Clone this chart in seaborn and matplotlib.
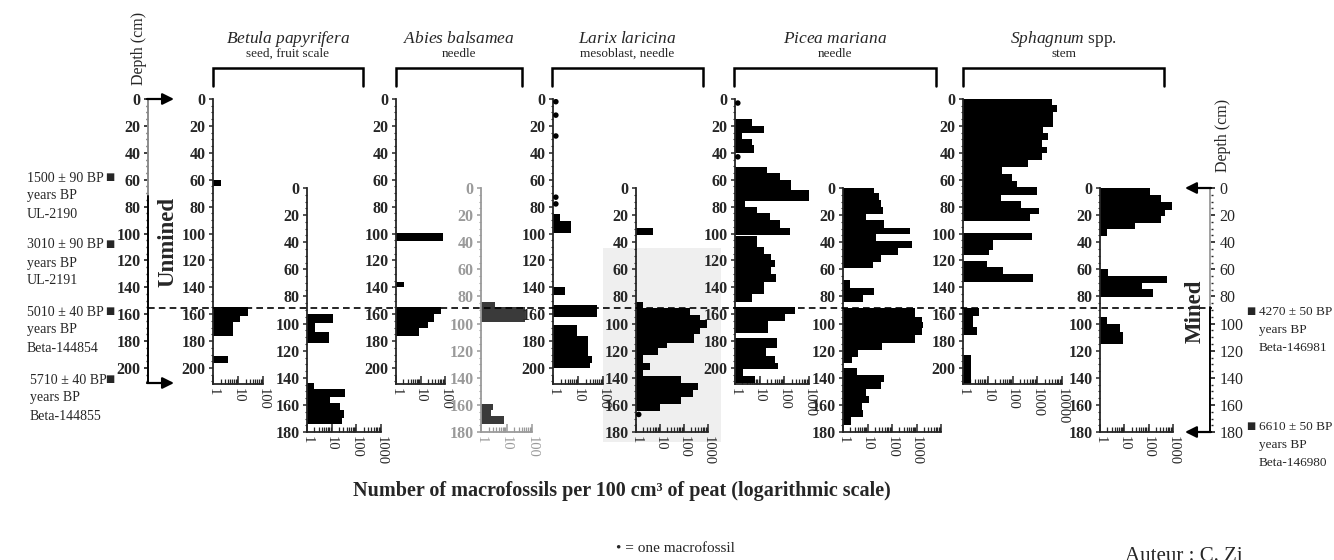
import numpy as np
import matplotlib
matplotlib.use("Agg")
import matplotlib.pyplot as plt
import seaborn as sns
from matplotlib.ticker import FixedLocator, MultipleLocator, FuncFormatter, LogLocator, NullFormatter

# ---------------------------------------------------------------- data
taxa = ["Betula papyrifera", "Abies balsamea", "Larix laricina", "Picea mariana", "Sphagnum"]
taxa_suffix = ["", "", "", "", " spp."]
organs = ["seed, fruit scale", "needle", "mesoblast, needle", "needle", "stem"]

unmined_depth_ticks = [0, 20, 40, 60, 80, 100, 120, 140, 160, 180, 200]
mined_depth_ticks = [0, 20, 40, 60, 80, 100, 120, 140, 160, 180]
count_ticks = [1, 10, 100, 1000, 10000]

# each panel: top of slice (cm), bottom of slice (cm), macrofossils per 100 cm3
betula_u_top = [60, 155, 161, 166, 191]
betula_u_bot = [65, 161, 166, 176, 196]
betula_u_val = [2, 26, 12, 6.5, 4]

betula_m_top = [93, 99.6, 106.5, 144, 148, 154, 158.5, 163.7, 169.6]
betula_m_bot = [99.6, 106.5, 114, 148, 154, 158.5, 163.7, 169.6, 174]
betula_m_val = [11, 2.1, 8, 2, 34, 8.5, 21, 32, 26]

abies_u_top = [99.6, 136, 155, 160, 166, 170]
abies_u_bot = [105.6, 140, 160, 166, 170, 176]
abies_u_val = [85, 2.1, 69, 35, 20, 8.7]

abies_m_top = [84, 88, 159, 164, 168]
abies_m_bot = [88, 99, 164, 168, 174]
abies_m_val = [3.4, 52, 3, 2.5, 8]

larix_u_top = [85.5, 91, 140, 153, 168, 176, 191, 196]
larix_u_bot = [91, 99.6, 146, 162, 176, 191, 196, 200]
larix_u_val = [1.9, 5.4, 3, 60, 9, 24, 36, 30]
larix_u_single = [2, 12, 27.5, 73, 78]

larix_m_top = [29.5, 84, 88.5, 93.7, 97, 103, 108, 114, 118, 123, 129, 134, 139, 144, 149, 154, 159]
larix_m_bot = [34.7, 88.5, 93.7, 97, 103, 108, 114, 118, 123, 129, 134, 139, 144, 149, 154, 159, 164.5]
larix_m_val = [5, 2, 180, 450, 900, 450, 250, 20, 8, 2, 3.8, 2, 75, 380, 240, 75, 10]
larix_m_single = [167]

picea_u_top = [15, 20, 25.3, 29.7, 34.2, 50.6, 55, 60.5, 68, 75.5, 80.3, 85, 90, 96,
               102, 110, 115, 120, 125, 130, 136, 145, 155, 160, 165, 178, 185, 191, 196, 201, 206]
picea_u_bot = [20, 25.3, 29.7, 34.2, 40, 55, 60.5, 68, 75.5, 80.3, 85, 90, 96, 101,
               110, 115, 120, 125, 130, 136, 145, 151, 160, 165, 174, 185, 191, 196, 201, 206, 211]
picea_u_val = [4.9, 15, 1.9, 4.9, 5.9, 20, 66, 190, 1100, 2.5, 7.7, 26, 66, 170,
               8, 15, 30, 40, 30, 45, 15, 5, 260, 110, 22, 50, 18, 40, 55, 2.1, 6.5]
picea_u_single = [3, 43]

picea_m_top = [0, 4, 8.8, 13.7, 19.2, 23.6, 29.3, 34, 39, 44.4, 49.4, 54.3, 67.8, 73.5, 79,
               88.5, 95, 99, 103.5, 108.4, 114.5, 119.5, 124.4, 133, 138, 142.8, 148.5, 153.4, 158.3, 163.7, 169]
picea_m_bot = [4, 8.8, 13.7, 19.2, 23.6, 29.3, 34, 39, 44.4, 49.4, 54.3, 59, 73.5, 79, 84,
               95, 99, 103.5, 108.4, 114.5, 119.5, 124.4, 129.3, 138, 142.8, 148.5, 153.4, 158.3, 163.7, 169, 174.8]
picea_m_val = [19, 30, 36, 44, 8.3, 48, 525, 23, 630, 174, 36, 17, 2, 19, 6.3,
               900, 1700, 1900, 1600, 900, 40, 4, 2.3, 3.6, 48, 36, 8.3, 11, 5.8, 6.3, 2.1]

sphagnum_u_top = [0, 4.5, 10, 20.6, 25.5, 30.5, 35.4, 40.4, 45.4, 50.8, 55.8, 60.7, 65.6, 71.4,
                  75.8, 81.3, 85.5, 99.9, 105, 111.9, 120.2, 125.1, 130.3, 155.6, 161.3, 169.7, 190.3]
sphagnum_u_bot = [4.5, 10, 20.6, 25.5, 30.5, 35.4, 40.4, 45.4, 50.8, 55.8, 60.7, 65.6, 71.4, 75.8,
                  81.3, 85.5, 90.7, 105, 111.9, 116, 125.1, 130.3, 135.8, 161.3, 169.7, 175.5, 212]
sphagnum_u_val = [3800, 6300, 4200, 1700, 2800, 1500, 2500, 1500, 420, 37, 93, 150, 950, 33,
                  215, 1170, 510, 630, 16, 11.5, 9.6, 42, 650, 4.4, 2.5, 3.6, 2.2]

sphagnum_m_top = [0, 4.9, 10.5, 16, 20.8, 25.7, 30.6, 59.6, 65, 70, 74.8, 95, 100, 106]
sphagnum_m_bot = [4.9, 10.5, 16, 20.8, 25.7, 30.6, 35.5, 65, 70, 74.8, 80.4, 100, 106, 115]
sphagnum_m_val = [114, 325, 890, 470, 325, 27, 2, 2.2, 550, 52, 155, 2, 6.5, 9]

single_fossil_value = 1.3

left_dates = ["1500 ± 90 BP", "3010 ± 90 BP", "5010 ± 40 BP", "5710 ± 40 BP"]
left_labs = ["UL-2190", "UL-2191", "Beta-144854", "Beta-144855"]
right_dates = ["4270 ± 50 BP", "6610 ± 50 BP"]
right_labs = ["Beta-146981", "Beta-146980"]

# ---------------------------------------------------------------- style
sns.set_theme(style="ticks")
plt.rcParams["font.family"] = ["Liberation Serif", "DejaVu Sans"]
plt.rcParams["mathtext.fontset"] = "custom"
plt.rcParams["mathtext.it"] = "Liberation Serif:italic"
plt.rcParams["mathtext.rm"] = "Liberation Serif"
plt.rcParams["axes.linewidth"] = 1.3

W, H = 1334, 560
fig = plt.figure(figsize=(W / 100, H / 100), dpi=100)
fig.patch.set_facecolor("white")

# background overlay (scan shading)
bg = fig.add_axes([0, 0, 1, 1], zorder=-5)
bg.set_xlim(0, W); bg.set_ylim(H, 0); bg.axis("off")
bg.add_patch(plt.Rectangle((603, 248), 118, 194, color="#efefef", lw=0))

UNM_TOP, UNM_MAX, UNM_SC = 99, 212, 1.345
MIN_TOP, MIN_MAX, MIN_SC = 188, 180, 1.356


def panel(x0, x1, mined, xmax, label_max, tops, bots, vals, singles=None,
          color="black", faded=False):
    ytop, ymax, sc = (MIN_TOP, MIN_MAX, MIN_SC) if mined else (UNM_TOP, UNM_MAX, UNM_SC)
    ybot = ytop + ymax * sc
    ax = fig.add_axes([x0 / W, 1 - ybot / H, (x1 - x0) / W, (ybot - ytop) / H])
    ax.set_facecolor("none")
    t = np.asarray(tops, float); b = np.asarray(bots, float); v = np.asarray(vals, float)
    ax.barh((t + b) / 2, v - 1, left=1, height=b - t, color=color, edgecolor="none", linewidth=0)
    if singles:
        sns.scatterplot(x=[single_fossil_value] * len(singles), y=singles, ax=ax,
                        color="black", s=16, edgecolor="none", legend=False, zorder=5)
    ax.set_xscale("log")
    ax.set_xlim(1, xmax)
    ax.set_ylim(ymax, 0)
    ax.set_xlabel(""); ax.set_ylabel("")
    sns.despine(ax=ax)
    majors = [c for c in count_ticks if c <= xmax]
    ax.xaxis.set_major_locator(FixedLocator(majors))
    ax.xaxis.set_minor_locator(LogLocator(base=10, subs=np.arange(2, 10), numticks=20))
    ax.xaxis.set_minor_formatter(NullFormatter())
    ax.xaxis.set_major_formatter(FuncFormatter(lambda val, pos: f"{int(round(val))}" if val <= label_max else ""))
    ax.tick_params(axis="x", which="major", direction="in", length=6, width=1.1,
                   labelrotation=-90, labelsize=10.5, pad=3)
    ax.tick_params(axis="x", which="minor", direction="in", length=3.5, width=0.9)
    yt = mined_depth_ticks if mined else unmined_depth_ticks
    ax.set_yticks(yt)
    ax.set_yticklabels([str(d) for d in yt], fontweight="bold")
    ax.yaxis.set_minor_locator(MultipleLocator(5))
    ax.tick_params(axis="y", which="major", direction="out", length=3, width=1.1, labelsize=11.5, pad=2.5)
    ax.tick_params(axis="y", which="minor", direction="out", length=1.5, width=0.8)
    ax.grid(False)
    if faded:
        for s in ax.spines.values():
            s.set_color("#9a9a9a")
        ax.tick_params(colors="#9a9a9a", which="both")
    return ax


panel(213, 263, False, 100, 100, betula_u_top, betula_u_bot, betula_u_val)
panel(307, 381, True, 1000, 1000, betula_m_top, betula_m_bot, betula_m_val)
panel(396, 445, False, 100, 100, abies_u_top, abies_u_bot, abies_u_val)
panel(481, 532, True, 100, 100, abies_m_top, abies_m_bot, abies_m_val, color="#3a3a3a", faded=True)
panel(553, 603, False, 100, 100, larix_u_top, larix_u_bot, larix_u_val, singles=larix_u_single)
panel(636, 708, True, 1000, 1000, larix_m_top, larix_m_bot, larix_m_val, singles=larix_m_single)
panel(735, 809, False, 1000, 1000, picea_u_top, picea_u_bot, picea_u_val, singles=picea_u_single)
panel(843, 941, True, 10000, 1000, picea_m_top, picea_m_bot, picea_m_val)
panel(963, 1062, False, 10000, 10000, sphagnum_u_top, sphagnum_u_bot, sphagnum_u_val)
panel(1100, 1173, True, 1000, 1000, sphagnum_m_top, sphagnum_m_bot, sphagnum_m_val)

# left depth axis
ybotL = UNM_TOP + UNM_MAX * UNM_SC
axL = fig.add_axes([148 / W, 1 - ybotL / H, 1 / W, (ybotL - UNM_TOP) / H])
axL.set_xlim(0, 1); axL.set_ylim(UNM_MAX, 0)
for s in axL.spines.values():
    s.set_visible(False)
axL.plot([0, 0], [0, 72], color="#8c8c8c", lw=1.4, clip_on=False)
axL.plot([0, 0], [72, 211], color="black", lw=1.4, clip_on=False)
axL.set_xticks([])
axL.set_yticks(unmined_depth_ticks)
axL.set_yticklabels([str(d) for d in unmined_depth_ticks], fontweight="bold")
axL.yaxis.set_minor_locator(MultipleLocator(5))
axL.tick_params(axis="y", which="major", direction="out", length=3, labelsize=11.5, pad=2.5)
axL.tick_params(axis="y", which="minor", direction="out", length=1.5)
axL.set_facecolor("none")

# right depth axis
ybotR = MIN_TOP + MIN_MAX * MIN_SC
axR = fig.add_axes([1210 / W, 1 - ybotR / H, 1 / W, (ybotR - MIN_TOP) / H])
axR.set_xlim(0, 1); axR.set_ylim(MIN_MAX, 0)
for s in axR.spines.values():
    s.set_visible(False)
axR.plot([0, 0], [0, 86], color="#a0a0a0", lw=1.4, clip_on=False)
axR.plot([0, 0], [88, 180], color="black", lw=1.4, clip_on=False)
axR.set_xticks([])
axR.yaxis.tick_right()
axR.set_yticks(mined_depth_ticks)
axR.set_yticklabels([str(d) for d in mined_depth_ticks])
axR.yaxis.set_minor_locator(MultipleLocator(5))
axR.tick_params(axis="y", which="major", direction="out", length=3, labelsize=11.5, pad=3,
                left=False, right=True, labelleft=False, labelright=True)
axR.tick_params(axis="y", which="minor", direction="out", length=1.5, left=False, right=True)
axR.set_facecolor("none")

# ---------------------------------------------------------------- overlay annotations (pixel space)
ov = fig.add_axes([0, 0, 1, 1], zorder=10)
ov.set_xlim(0, W); ov.set_ylim(H, 0); ov.axis("off")

ov.plot([148, 1212], [308, 308], color="black", lw=1.2, ls=(0, (4, 2.5)))

brackets = [(213, 363), (396, 522), (552, 703), (734, 936), (963, 1164)]
for (bx0, bx1), name, suf, org in zip(brackets, taxa, taxa_suffix, organs):
    ov.plot([bx0, bx0, bx1, bx1], [86, 68, 68, 86], color="black", lw=1.8, solid_joinstyle="miter")
    cx = (bx0 + bx1) / 2
    title = r"$\mathit{" + name.replace(" ", r"\ ") + "}$" + suf
    ov.text(cx, 39, title, ha="center", va="center", fontsize=12.5)
    ov.text(cx, 54, org, ha="center", va="center", fontsize=9.5)

arrow = dict(arrowstyle="-|>", color="black", lw=1.6, mutation_scale=17, shrinkA=0, shrinkB=0)
ov.annotate("", xy=(174, 99), xytext=(147, 99), arrowprops=arrow)
ov.annotate("", xy=(174, 383), xytext=(147, 383), arrowprops=arrow)
ov.annotate("", xy=(1185, 188), xytext=(1211, 188), arrowprops=arrow)
ov.annotate("", xy=(1185, 432), xytext=(1211, 432), arrowprops=arrow)

ov.text(139, 48, "Depth (cm)", rotation=90, ha="center", va="center", fontsize=11.5)
ov.text(1223, 135, "Depth (cm)", rotation=90, ha="center", va="center", fontsize=11.5)
ov.text(168, 242, "Unmined", rotation=90, ha="center", va="center", fontsize=16.5, fontweight="bold")
ov.text(1195, 311, "Mined", rotation=90, ha="center", va="center", fontsize=16.5, fontweight="bold")

left_y = [178, 245, 312, 380]
left_x = [27, 27, 27, 30]
for yy, xx, d, lab in zip(left_y, left_x, left_dates, left_labs):
    ov.text(xx, yy, d, ha="left", va="center", fontsize=10)
    ov.text(110, yy - 1, "■", ha="center", va="center", fontsize=7,
            family=["DejaVu Sans"])
    ov.text(xx, yy + 18, "years BP", ha="left", va="center", fontsize=10)
    ov.text(xx, yy + 36, lab, ha="left", va="center", fontsize=10)

right_y = [312, 427]
for yy, d, lab in zip(right_y, right_dates, right_labs):
    ov.text(1251, yy - 1, "■", ha="center", va="center", fontsize=7, family=["DejaVu Sans"])
    ov.text(1259, yy, d, ha="left", va="center", fontsize=9.5)
    ov.text(1259, yy + 18, "years BP", ha="left", va="center", fontsize=9.5)
    ov.text(1259, yy + 36, lab, ha="left", va="center", fontsize=9.5)

ov.text(622, 491, "Number of macrofossils per 100 cm³ of peat (logarithmic scale)",
        ha="center", va="center", fontsize=14.5, fontweight="bold")
ov.text(675, 549, "• = one macrofossil", ha="center", va="center", fontsize=11)
ov.text(1125, 547, "Auteur : C. Zi", ha="left", va="top", fontsize=15)

fig.savefig("out.png", dpi=100)
